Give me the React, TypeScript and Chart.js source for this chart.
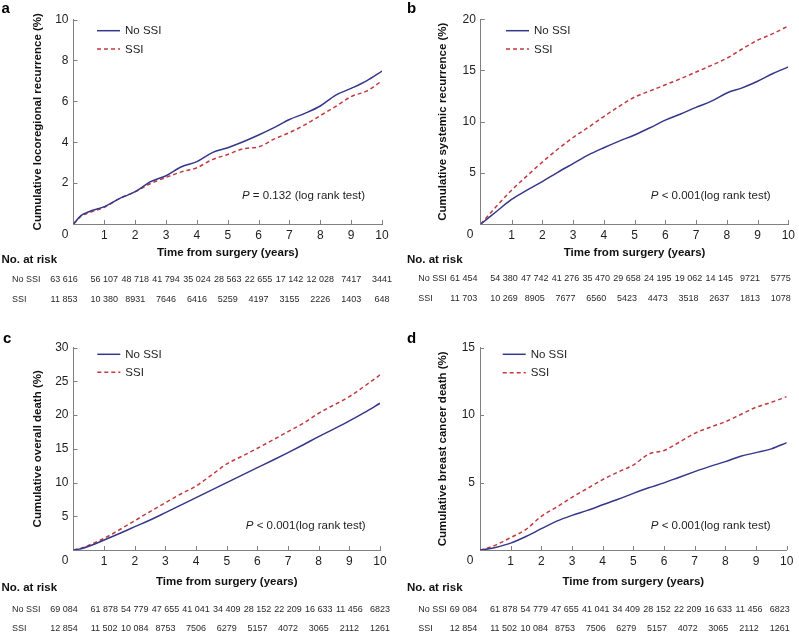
import React, { useEffect, useRef } from 'react';
import { Chart, registerables } from 'chart.js';

Chart.register(...registerables);

// ---------- data ----------
const TIMES = [0, 0.25, 0.5, 1, 1.5, 2, 2.5, 3, 3.5, 4, 4.5, 5, 5.5, 6, 6.5, 7, 7.5, 8, 8.5, 9, 9.5, 10];
const X_TICKS = [0, 1, 2, 3, 4, 5, 6, 7, 8, 9, 10];
const SERIES_LABELS = ['No SSI', 'SSI'];

const A_NO_SSI = [0, 0.42, 0.6, 0.85, 1.25, 1.58, 2.07, 2.36, 2.8, 3.05, 3.49, 3.73, 4.02, 4.35, 4.71, 5.11, 5.41, 5.77, 6.3, 6.63, 7.0, 7.48];
const A_SSI = [0, 0.38, 0.55, 0.82, 1.25, 1.58, 1.98, 2.28, 2.55, 2.75, 3.15, 3.4, 3.68, 3.77, 4.15, 4.47, 4.85, 5.3, 5.75, 6.23, 6.5, 7.0];
const B_NO_SSI = [0, 0.6, 1.2, 2.4, 3.3, 4.15, 5.05, 5.9, 6.75, 7.45, 8.1, 8.7, 9.4, 10.15, 10.75, 11.4, 12.0, 12.8, 13.3, 13.95, 14.7, 15.35];
const B_SSI = [0, 0.85, 1.7, 3.3, 4.7, 6.05, 7.3, 8.45, 9.45, 10.5, 11.5, 12.4, 13.0, 13.6, 14.2, 14.85, 15.5, 16.2, 17.1, 17.95, 18.6, 19.35];
const C_NO_SSI = [0, 0.2, 0.55, 1.48, 2.45, 3.46, 4.45, 5.54, 6.65, 7.76, 8.88, 9.99, 11.1, 12.21, 13.3, 14.43, 15.6, 16.81, 17.95, 19.13, 20.4, 21.75];
const C_SSI = [0, 0.25, 0.7, 1.73, 3.0, 4.35, 5.7, 7.02, 8.3, 9.49, 11.1, 12.75, 13.9, 15.08, 16.3, 17.55, 18.8, 20.27, 21.5, 22.74, 24.3, 25.95];
const D_NO_SSI = [0, 0.08, 0.19, 0.51, 1.0, 1.58, 2.14, 2.57, 2.94, 3.35, 3.76, 4.2, 4.61, 4.98, 5.4, 5.81, 6.2, 6.55, 6.95, 7.22, 7.5, 7.96];
const D_SSI = [0, 0.15, 0.36, 0.92, 1.53, 2.5, 3.18, 3.91, 4.56, 5.22, 5.78, 6.3, 7.11, 7.38, 8.0, 8.65, 9.1, 9.51, 10.05, 10.58, 10.95, 11.37];

const RISK_A_NO_SSI = [63616, 56107, 48718, 41794, 35024, 28563, 22655, 17142, 12028, 7417, 3441];
const RISK_A_SSI = [11853, 10380, 8931, 7646, 6416, 5259, 4197, 3155, 2226, 1403, 648];
const RISK_B_NO_SSI = [61454, 54380, 47742, 41276, 35470, 29658, 24195, 19062, 14145, 9721, 5775];
const RISK_B_SSI = [11703, 10269, 8905, 7677, 6560, 5423, 4473, 3518, 2637, 1813, 1078];
const RISK_CD_NO_SSI = [69084, 61878, 54779, 47655, 41041, 34409, 28152, 22209, 16633, 11456, 6823];
const RISK_CD_SSI = [12854, 11502, 10084, 8753, 7506, 6279, 5157, 4072, 3065, 2112, 1261];

// ---------- style ----------
const FONT = '"Liberation Sans", Arial, Helvetica, sans-serif';
const NAVY = '#35378a';
const RED = '#c23a40';
const AXIS = '#808080';
const TEXT = '#1e1e1e';

function fmt(n: number): string {
  if (n >= 10000) {
    const s = String(n);
    return s.slice(0, s.length - 3) + ' ' + s.slice(s.length - 3);
  }
  return String(n);
}

type PanelCfg = {
  letter: string;
  yTitle: string;
  yMax: number;
  yStep: number;
  noSsi: number[];
  ssi: number[];
  riskNo: number[];
  riskSsi: number[];
  pRest: string;
  w: number;
  h: number;
  left: number;
  top: number;
  areaL: number;
  areaT: number;
  areaR: number;
  areaB: number;
  xTitleY: number;
  yTitleX: number;
  legendX: number;
  legendY1: number;
  legendY2: number;
  pRight: number;
  pY: number;
  zeroX: number;
  letterX: number;
  letterY: number;
  tableTitleX: number;
  tableTitleY: number;
  rowLabelX: number;
  row1Y: number;
  row2Y: number;
  tableDx: number;
};

const PANELS: PanelCfg[] = [
  {
    letter: 'a', yTitle: 'Cumulative locoregional recurrence (%)', yMax: 10, yStep: 2,
    noSsi: A_NO_SSI, ssi: A_SSI, riskNo: RISK_A_NO_SSI, riskSsi: RISK_A_SSI,
    pRest: ' = 0.132 (log rank test)',
    w: 400, h: 320, left: 0, top: 0,
    areaL: 73.5, areaT: 19.5, areaR: 382, areaB: 224,
    xTitleY: 253.3, yTitleX: 38,
    legendX: 97, legendY1: 30.7, legendY2: 49,
    pRight: 365, pY: 196, zeroX: 65,
    letterX: 1.5, letterY: 12.7,
    tableTitleX: 1.5, tableTitleY: 260, rowLabelX: 12, row1Y: 280, row2Y: 300, tableDx: 0,
  },
  {
    letter: 'b', yTitle: 'Cumulative systemic recurrence (%)', yMax: 20, yStep: 5,
    noSsi: B_NO_SSI, ssi: B_SSI, riskNo: RISK_B_NO_SSI, riskSsi: RISK_B_SSI,
    pRest: ' < 0.001(log rank test)',
    w: 399, h: 320, left: 400, top: 0,
    areaL: 80.8, areaT: 19.3, areaR: 389.3, areaB: 224,
    xTitleY: 253.3, yTitleX: 42.5,
    legendX: 106, legendY1: 30.7, legendY2: 49,
    pRight: 370.7, pY: 196, zeroX: 70,
    letterX: 7, letterY: 13.3,
    tableTitleX: 7, tableTitleY: 260, rowLabelX: 18.3, row1Y: 279, row2Y: 299, tableDx: -7.5,
  },
  {
    letter: 'c', yTitle: 'Cumulative overall death (%)', yMax: 30, yStep: 5,
    noSsi: C_NO_SSI, ssi: C_SSI, riskNo: RISK_CD_NO_SSI, riskSsi: RISK_CD_SSI,
    pRest: ' < 0.001(log rank test)',
    w: 400, h: 317, left: 0, top: 320,
    areaL: 73.5, areaT: 27.6, areaR: 380, areaB: 230,
    xTitleY: 261.7, yTitleX: 37.5,
    legendX: 97.3, legendY1: 34.3, legendY2: 52.3,
    pRight: 365.7, pY: 206, zeroX: 65,
    letterX: 3, letterY: 22.7,
    tableTitleX: 1.5, tableTitleY: 268.3, rowLabelX: 12, row1Y: 290, row2Y: 309, tableDx: 0,
  },
  {
    letter: 'd', yTitle: 'Cumulative breast cancer death (%)', yMax: 15, yStep: 5,
    noSsi: D_NO_SSI, ssi: D_SSI, riskNo: RISK_CD_NO_SSI, riskSsi: RISK_CD_SSI,
    pRest: ' < 0.001(log rank test)',
    w: 399, h: 317, left: 400, top: 320,
    areaL: 80, areaT: 27.7, areaR: 386.7, areaB: 230,
    xTitleY: 261.7, yTitleX: 42.5,
    legendX: 102.7, legendY1: 34.3, legendY2: 52.7,
    pRight: 370.7, pY: 206, zeroX: 70,
    letterX: 7, letterY: 22.7,
    tableTitleX: 7, tableTitleY: 268.3, rowLabelX: 18.3, row1Y: 289.3, row2Y: 308.3, tableDx: -7,
  },
];

const TITLE_FONT_SIZE = 11.5;
const TITLE_LH = 1.2;

function makeDecor(cfg: PanelCfg) {
  return {
    id: 'decor-' + cfg.letter,
    afterDraw(chart: any) {
      const ctx = chart.ctx as CanvasRenderingContext2D;
      const xs = chart.scales.x;
      const ys = chart.scales.y;
      const area = chart.chartArea;
      ctx.save();

      // inward tick marks
      ctx.strokeStyle = AXIS;
      ctx.lineWidth = 1;
      ctx.beginPath();
      X_TICKS.forEach((v) => {
        if (v === 0) return;
        const px = Math.round(xs.getPixelForValue(v)) + 0.5;
        ctx.moveTo(px, area.bottom);
        ctx.lineTo(px, area.bottom - 4);
      });
      for (let v = cfg.yStep; v <= cfg.yMax; v += cfg.yStep) {
        const py = Math.round(ys.getPixelForValue(v)) + 0.5;
        ctx.moveTo(area.left, py);
        ctx.lineTo(area.left + 4, py);
      }
      ctx.stroke();

      // origin "0" label
      ctx.fillStyle = TEXT;
      ctx.font = `12px ${FONT}`;
      ctx.textAlign = 'center';
      ctx.textBaseline = 'middle';
      const labelY = cfg.areaB + 11;
      ctx.fillText('0', cfg.zeroX, labelY);

      // legend
      const datasets = chart.data.datasets;
      const rows = [cfg.legendY1, cfg.legendY2];
      datasets.forEach((ds: any, i: number) => {
        const y = rows[i];
        ctx.strokeStyle = ds.borderColor;
        ctx.lineWidth = 1.5;
        ctx.setLineDash(ds.borderDash || []);
        ctx.beginPath();
        ctx.moveTo(cfg.legendX, y);
        ctx.lineTo(cfg.legendX + 23, y);
        ctx.stroke();
        ctx.setLineDash([]);
        ctx.fillStyle = TEXT;
        ctx.font = `11.5px ${FONT}`;
        ctx.textAlign = 'left';
        ctx.textBaseline = 'middle';
        ctx.fillText(ds.label, cfg.legendX + 28, y + 0.5);
      });

      // P value
      ctx.font = `11.5px ${FONT}`;
      ctx.textAlign = 'right';
      ctx.textBaseline = 'middle';
      ctx.fillStyle = TEXT;
      ctx.fillText(cfg.pRest, cfg.pRight, cfg.pY);
      const restW = ctx.measureText(cfg.pRest).width;
      ctx.font = `italic 11.5px ${FONT}`;
      ctx.fillText('P', cfg.pRight - restW, cfg.pY);

      // panel letter
      ctx.font = `bold 15px ${FONT}`;
      ctx.textAlign = 'left';
      ctx.textBaseline = 'alphabetic';
      ctx.fillStyle = '#000';
      ctx.fillText(cfg.letter, cfg.letterX, cfg.letterY);

      // number at risk table
      ctx.font = `bold 11.5px ${FONT}`;
      ctx.textBaseline = 'middle';
      ctx.fillStyle = '#111';
      ctx.fillText('No. at risk', cfg.tableTitleX, cfg.tableTitleY);
      ctx.font = `9px ${FONT}`;
      ctx.fillStyle = '#2a2a2a';
      ctx.fillText(SERIES_LABELS[0], cfg.rowLabelX, cfg.row1Y);
      ctx.fillText(SERIES_LABELS[1], cfg.rowLabelX, cfg.row2Y);
      ctx.textAlign = 'center';
      X_TICKS.forEach((v, i) => {
        const px = xs.getPixelForValue(v) + cfg.tableDx + (i === 0 ? -9.5 : 0);
        ctx.fillText(fmt(cfg.riskNo[i]), px, cfg.row1Y);
        ctx.fillText(fmt(cfg.riskSsi[i]), px, cfg.row2Y);
      });

      ctx.restore();
    },
  };
}

function Panel({ cfg }: { cfg: PanelCfg }) {
  const ref = useRef<HTMLCanvasElement | null>(null);

  useEffect(() => {
    const canvas = ref.current;
    if (!canvas) return;
    const half = (TITLE_FONT_SIZE * TITLE_LH) / 2;
    const xH = cfg.xTitleY + half - cfg.areaB;
    const chart = new Chart(canvas, {
      type: 'line',
      data: {
        datasets: [
          {
            label: SERIES_LABELS[0],
            data: TIMES.map((t, i) => ({ x: t, y: cfg.noSsi[i] })),
            borderColor: NAVY,
            borderWidth: 1.5,
            pointRadius: 0,
            fill: false,
            cubicInterpolationMode: 'monotone',
          },
          {
            label: SERIES_LABELS[1],
            data: TIMES.map((t, i) => ({ x: t, y: cfg.ssi[i] })),
            borderColor: RED,
            borderWidth: 1.5,
            borderDash: [4, 3],
            pointRadius: 0,
            fill: false,
            cubicInterpolationMode: 'monotone',
          },
        ],
      },
      options: {
        responsive: false,
        animation: false,
        devicePixelRatio: 1,
        layout: {
          padding: {
            left: 0,
            top: cfg.areaT,
            right: cfg.w - cfg.areaR,
            bottom: cfg.h - cfg.areaB - xH,
          },
        },
        plugins: {
          legend: { display: false },
          tooltip: { enabled: false },
        },
        scales: {
          x: {
            type: 'linear',
            min: 0,
            max: 10,
            ticks: {
              stepSize: 1,
              autoSkip: false,
              maxRotation: 0,
              padding: 4,
              color: TEXT,
              font: { family: FONT, size: 12 },
              callback: (v: any) => (Number(v) === 0 ? '' : String(v)),
            },
            grid: { display: true, drawOnChartArea: false, drawTicks: false },
            border: { display: true, color: AXIS, width: 1 },
            title: {
              display: true,
              text: 'Time from surgery (years)',
              color: '#111',
              font: { family: FONT, size: TITLE_FONT_SIZE, weight: 'bold', lineHeight: TITLE_LH },
              padding: { top: 0, bottom: 0 },
            },
            afterFit: (s: any) => {
              s.height = xH;
            },
          },
          y: {
            type: 'linear',
            min: 0,
            max: cfg.yMax,
            ticks: {
              stepSize: cfg.yStep,
              padding: 5,
              color: TEXT,
              font: { family: FONT, size: 12 },
              callback: (v: any) => (Number(v) === 0 ? '' : String(v)),
            },
            grid: { display: true, drawOnChartArea: false, drawTicks: false },
            border: { display: true, color: AXIS, width: 1 },
            title: {
              display: true,
              text: cfg.yTitle,
              color: '#111',
              font: { family: FONT, size: TITLE_FONT_SIZE, weight: 'bold', lineHeight: TITLE_LH },
              padding: { top: cfg.yTitleX - half, bottom: 0 },
            },
            afterFit: (s: any) => {
              s.width = cfg.areaL;
            },
          },
        },
      } as any,
      plugins: [makeDecor(cfg)],
    });
    return () => chart.destroy();
  }, [cfg]);

  return (
    <canvas
      ref={ref}
      width={cfg.w}
      height={cfg.h}
      style={{
        position: 'absolute',
        left: cfg.left,
        top: cfg.top,
        width: cfg.w,
        height: cfg.h,
        display: 'block',
      }}
    />
  );
}

export default function App() {
  useEffect(() => {
    document.body.style.margin = '0';
    document.body.style.background = '#ffffff';
  }, []);
  return (
    <div style={{ position: 'relative', width: 799, height: 637, background: '#fff', overflow: 'hidden' }}>
      {PANELS.map((p) => (
        <Panel key={p.letter} cfg={p} />
      ))}
    </div>
  );
}
